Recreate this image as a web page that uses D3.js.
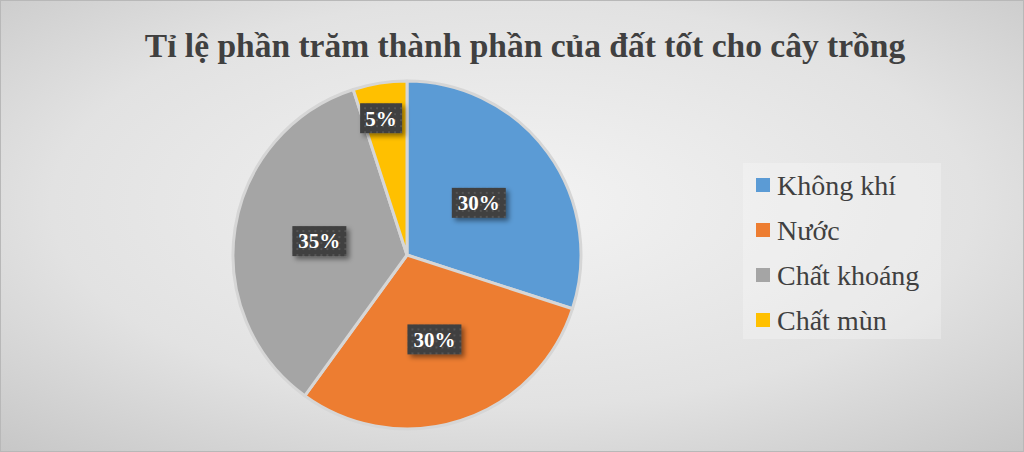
<!DOCTYPE html>
<html>
<head>
<meta charset="utf-8">
<script src="https://cdn.jsdelivr.net/npm/d3@7"></script>
<style>
  body { margin: 0; }
  svg { display: block; }
</style>
</head>
<body>
<div id="chart"></div>
<script>
var svgWidth = 1024;
var svgHeight = 452;

// data
var titleText = "Tỉ lệ phần trăm thành phần của đất tốt cho cây trồng";
var categories = ["Không khí", "Nước", "Chất khoáng", "Chất mùn"];
var values = [30, 30, 35, 5];
var colors = ["#5B9BD5", "#ED7D31", "#A5A5A5", "#FFC000"];

var svg = d3.select("#chart")
  .append("svg")
  .attr("width", svgWidth)
  .attr("height", svgHeight);

var defs = svg.append("defs");

// background gradient
var bg = defs.append("radialGradient")
  .attr("id", "bg")
  .attr("cx", "50%").attr("cy", "45%").attr("r", "75%");
bg.append("stop").attr("offset", "0%").attr("stop-color", "#f3f3f3");
bg.append("stop").attr("offset", "60%").attr("stop-color", "#e2e2e2");
bg.append("stop").attr("offset", "100%").attr("stop-color", "#c6c6c6");

// dotted texture for the data labels
var pat = defs.append("pattern")
  .attr("id", "dots")
  .attr("width", 6).attr("height", 6)
  .attr("patternUnits", "userSpaceOnUse");
pat.append("rect").attr("width", 6).attr("height", 6).attr("fill", "#3f3f3f");
pat.append("rect").attr("x", 1).attr("y", 1).attr("width", 2).attr("height", 2).attr("fill", "#555");

var shadow = defs.append("filter")
  .attr("id", "shadow")
  .attr("x", "-20%").attr("y", "-20%").attr("width", "150%").attr("height", "160%");
shadow.append("feDropShadow")
  .attr("dx", 3).attr("dy", 3).attr("stdDeviation", 2.5)
  .attr("flood-color", "#000").attr("flood-opacity", 0.45);

svg.append("rect")
  .attr("width", svgWidth)
  .attr("height", svgHeight)
  .attr("fill", "url(#bg)")
  .attr("stroke", "#b8b8b8")
  .attr("stroke-width", 2);

// title
svg.append("text")
  .attr("x", 525)
  .attr("y", 57)
  .attr("text-anchor", "middle")
  .attr("font-family", "'Liberation Serif', 'Times New Roman', serif")
  .attr("font-weight", "bold")
  .attr("font-size", 33.5)
  .attr("fill", "#404040")
  .text(titleText);

// pie
var cx = 407, cy = 255, radius = 174;
var pieGroup = svg.append("g")
  .attr("transform", `translate(${cx}, ${cy})`);

var pie = d3.pie().sort(null).value(d => d);
var arcs = pie(values);
var arc = d3.arc().innerRadius(0).outerRadius(radius);

pieGroup.selectAll("path")
  .data(arcs)
  .enter()
  .append("path")
  .attr("d", arc)
  .attr("fill", (d, i) => colors[i])
  .attr("stroke", "#d6d6d6")
  .attr("stroke-width", 3)
  .attr("stroke-linejoin", "round");

// data labels
var totalV = d3.sum(values);
var labels = pieGroup.selectAll("g.lbl")
  .data(arcs)
  .enter()
  .append("g")
  .attr("class", "lbl")
  .attr("transform", d => {
    var share = d.value / totalV;
    var rr = share < 0.1 ? radius * 0.8 : radius * 0.51;
    var a = (d.startAngle + d.endAngle) / 2;
    if (share < 0.1) a -= 0.03;
    return `translate(${rr * Math.sin(a)}, ${-rr * Math.cos(a)})`;
  });

labels.append("rect")
  .attr("x", d => d.value >= 10 ? -27 : -21)
  .attr("y", -15)
  .attr("width", d => d.value >= 10 ? 54 : 42)
  .attr("height", 30)
  .attr("fill", "url(#dots)")
  .attr("filter", "url(#shadow)");

labels.append("text")
  .attr("text-anchor", "middle")
  .attr("dy", "0.35em")
  .attr("font-family", "'Liberation Serif', 'Times New Roman', serif")
  .attr("font-weight", "bold")
  .attr("font-size", 21)
  .attr("fill", "#ffffff")
  .text(d => d.value + "%");

// legend
var legend = svg.append("g")
  .attr("transform", "translate(743, 163)");

legend.append("rect")
  .attr("width", 198)
  .attr("height", 176)
  .attr("fill", "#ffffff")
  .attr("fill-opacity", 0.25);

var items = legend.selectAll("g.item")
  .data(categories)
  .enter()
  .append("g")
  .attr("class", "item")
  .attr("transform", (d, i) => `translate(13, ${22 + i * 45})`);

items.append("rect")
  .attr("x", 0)
  .attr("y", -7)
  .attr("width", 14)
  .attr("height", 14)
  .attr("fill", (d, i) => colors[i]);

items.append("text")
  .attr("x", 21)
  .attr("dy", "0.35em")
  .attr("font-family", "'Liberation Serif', 'Times New Roman', serif")
  .attr("font-size", 28)
  .attr("fill", "#404040")
  .text(d => d);
</script>
</body>
</html>
